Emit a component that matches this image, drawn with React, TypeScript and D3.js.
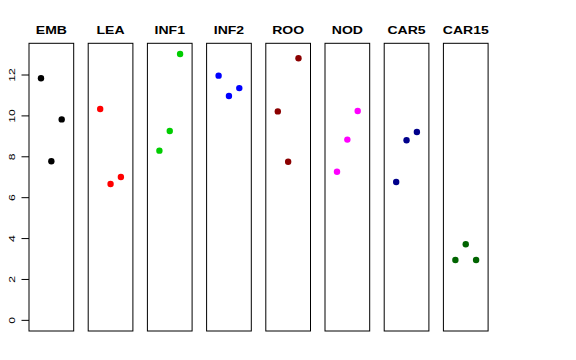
import React from "react";
import * as d3 from "d3";

const categories = ["EMB", "LEA", "INF1", "INF2", "ROO", "NOD", "CAR5", "CAR15"];
const colors = ["#000000", "#FF0000", "#00CD00", "#0000FF", "#8B0000", "#FF00FF", "#00008B", "#006400"];
const rep1 = [11.84, 10.34, 8.30, 11.97, 10.22, 7.27, 6.77, 2.95];
const rep2 = [7.78, 6.67, 9.26, 10.97, 7.76, 8.84, 8.81, 3.72];
const rep3 = [9.83, 7.01, 13.03, 11.36, 12.82, 10.24, 9.21, 2.95];
const yTicks = [0, 2, 4, 6, 8, 10, 12];

const W = 576;
const H = 360;
const TOP = 43.3;
const BOTTOM = 331;

export default function App() {
  const reps = [rep1, rep2, rep3];
  const allVals = reps.flat();
  const yMax = d3.max(allVals) as number;
  const yMin = 0;
  const ext = (yMax - yMin) * 0.04;
  const y = d3.scaleLinear().domain([yMin - ext, yMax + ext]).range([BOTTOM, TOP]);

  const band = d3.scaleBand<string>().domain(categories).range([29, 488.1]).paddingInner(0.245).paddingOuter(0);
  const bw = band.bandwidth();
  const x = d3.scaleLinear().domain([-0.16, 4.16]).range([0, bw]);

  const titleStyle: React.CSSProperties = { fontFamily: "Liberation Sans, Arial, sans-serif", fontWeight: "bold", fontSize: 11.5 };

  return (
    <svg width={W} height={H} style={{ position: "absolute", left: 0, top: 0, background: "#fff" }}>
      {categories.map((c, i) => {
        const x0 = band(c) as number;
        return (
          <g key={c} transform={`translate(${x0},0)`}>
            <rect x={0} y={TOP} width={bw} height={BOTTOM - TOP} fill="none" stroke="#000" strokeWidth={1} />
            {reps.map((r, j) => (
              <circle key={j} cx={x(j + 1)} cy={y(r[i])} r={3.2} fill={colors[i]} />
            ))}
            <text transform={`translate(${bw / 2},33.5) scale(1.22,1)`} textAnchor="middle" style={titleStyle}>
              {c}
            </text>
          </g>
        );
      })}
      <g>
        {yTicks.map((t) => (
          <g key={t}>
            <line x1={21.5} x2={29} y1={y(t)} y2={y(t)} stroke="#000" strokeWidth={1} />
            <text
              transform={`translate(14.5,${y(t)}) rotate(-90) scale(1.35,1)`}
              textAnchor="middle"
              style={{ fontFamily: "Liberation Sans, Arial, sans-serif", fontSize: 9 }}
            >
              {t}
            </text>
          </g>
        ))}
      </g>
    </svg>
  );
}
